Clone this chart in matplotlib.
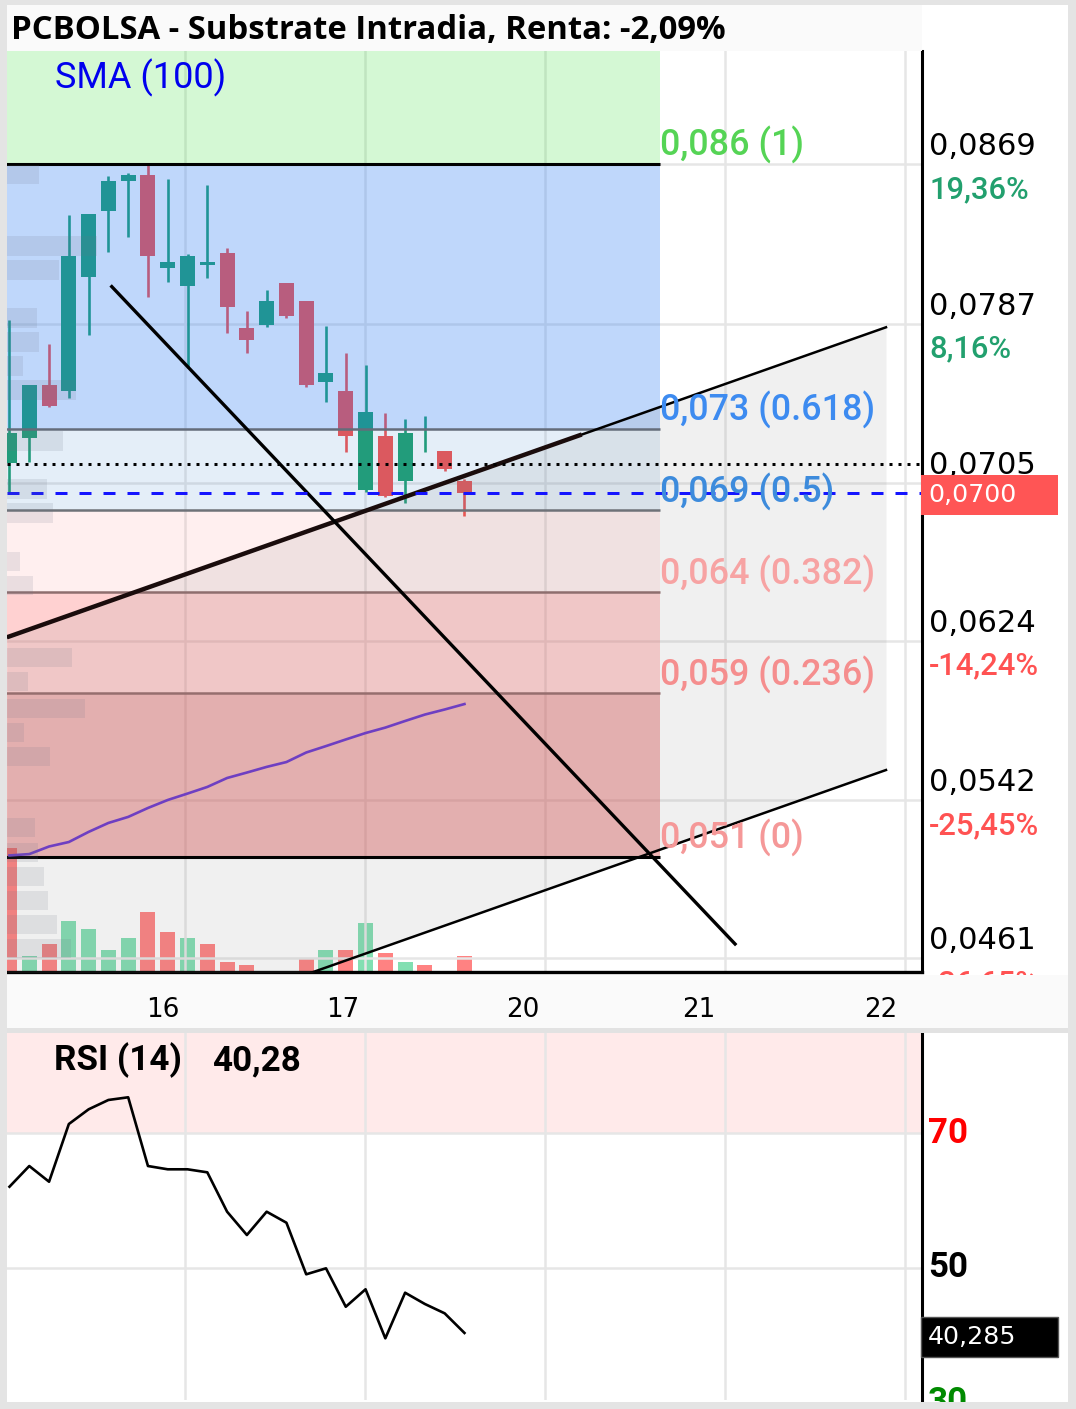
import numpy as np
import matplotlib
matplotlib.use("Agg")
import matplotlib.pyplot as plt
from matplotlib.patches import Rectangle
import math

# ---------------- data ----------------
title_text = "PCBOLSA - Substrate Intradia, Renta: -2,09%"
sma_label = "SMA (100)"

candle_open = [0.07152, 0.07281, 0.07554, 0.07525, 0.08111, 0.08448, 0.08603, 0.08633,
               0.08157, 0.08063, 0.08171, 0.08231, 0.07847, 0.07863, 0.08079, 0.07986,
               0.07571, 0.07524, 0.07015, 0.07294, 0.07061, 0.07209, 0.07215, 0.07061]
candle_high = [0.07888, 0.07554, 0.07764, 0.08426, 0.08433, 0.08628, 0.08642, 0.08685,
               0.08613, 0.08228, 0.08582, 0.08257, 0.07933, 0.08043, 0.08079, 0.07986,
               0.07858, 0.07717, 0.07657, 0.07409, 0.07380, 0.07395, 0.07215, 0.07070]
candle_low = [0.07006, 0.07160, 0.07440, 0.07486, 0.07810, 0.08239, 0.08316, 0.08008,
              0.08085, 0.07642, 0.08103, 0.07823, 0.07717, 0.07854, 0.07900, 0.07546,
              0.07469, 0.07209, 0.07006, 0.06977, 0.06950, 0.07209, 0.07114, 0.06883]
candle_close = [0.07306, 0.07554, 0.07447, 0.08217, 0.08433, 0.08603, 0.08633, 0.08217,
                0.08186, 0.08217, 0.08186, 0.07957, 0.07786, 0.07986, 0.07910, 0.07554,
                0.07616, 0.07294, 0.07416, 0.06984, 0.07308, 0.07209, 0.07123, 0.07000]
volume = [123.7, 16, 27.7, 51.3, 42.7, 21.7, 33.7, 60.3, 39.7, 33.7, 27.7, 9.7,
          6.7, 0, 0, 12.7, 21.7, 21.7, 48.7, 18.7, 9.7, 6.7, 0, 15.7]
sma100 = [0.05137, 0.05144, 0.05183, 0.05206, 0.05258, 0.05304, 0.05335, 0.05381,
          0.05422, 0.05455, 0.05489, 0.05535, 0.05563, 0.05592, 0.05617, 0.05666,
          0.05699, 0.05733, 0.05766, 0.05794, 0.05828, 0.05861, 0.05887, 0.05915]
rsi14 = [62.05, 65.13, 62.79, 71.38, 73.57, 74.96, 75.36, 65.13, 64.64, 64.64, 64.19, 58.33,
         54.86, 58.33, 56.69, 49.01, 49.90, 44.18, 46.78, 39.48, 46.27, 44.59, 43.20, 40.28]

profile_price = [0.08636, 0.08269, 0.08145, 0.07899, 0.07775, 0.07652, 0.07529, 0.07267,
                 0.07020, 0.06897, 0.06647, 0.06524, 0.06154, 0.06031, 0.05892, 0.05769,
                 0.05645, 0.05281, 0.05152, 0.05029, 0.04906, 0.04782, 0.04659]
profile_vol = [32, 90, 52, 30, 32, 16, 69, 56, 40, 46, 13, 26, 65, 21, 78, 17, 43,
               28, 31, 37, 41, 50, 64]

fib_high = 0.0869
fib_low = 0.0513
fib_ratios = [1, 0.618, 0.5, 0.382, 0.236, 0]
fib_ratio_txt = ["1", "0.618", "0.5", "0.382", "0.236", "0"]
fib_end_x = 32.89

channel_x = [-0.13, 44.31]
channel_upper = [0.06258, 0.07851]
channel_width = 0.02275
support_x = [-0.13, 28.93]
support_y = [0.06258, 0.07300]
down_x = [5.17, 36.68]
down_y = [0.08060, 0.04682]

last_price = 0.0700
prev_close = 0.0715
price_ticks = [0.0869, 0.0787, 0.0705, 0.0624, 0.0542, 0.0461]
pct_labels = ["19,36%", "8,16%", "", "-14,24%", "-25,45%", "-36,65%"]

x_grid = [8.873, 17.973, 27.073, 36.173, 45.273]
x_label_pos = [7.76, 16.84, 25.96, 34.86, 44.06]
x_labels = ["16", "17", "20", "21", "22"]

rsi_ticks = [70, 50, 30]
rsi_tick_colors = ["#ff0000", "#000000", "#008a00"]
rsi_last_txt = "40,285"
rsi_header_val = "40,28"

# ---------------- layout helpers ----------------
W, H = 1076, 1409
fig = plt.figure(figsize=(W / 100, H / 100), dpi=100, facecolor="white")


def rect(x0, y0, x1, y1):
    return [x0 / W, 1 - y1 / H, (x1 - x0) / W, (y1 - y0) / H]


def fx(x):
    return x / W


def fy(y):
    return 1 - y / H


XLIM = (-0.126, 46.13)
PLIM = (0.045381, 0.092707)
RLIM = (30.3, 84.93)
ROBOTO = ["Roboto", "DejaVu Sans"]
DEJAVU = ["DejaVu Sans"]

UP, DOWN = "#1b9f6d", "#f5504c"
UPV, DOWNV = "#82dfb2", "#ff8282"

n = len(candle_open)
xi = np.arange(n)
o = np.array(candle_open)
h = np.array(candle_high)
l = np.array(candle_low)
c = np.array(candle_close)

# ---------------- volume axes (bottom layer) ----------------
ax_vol = fig.add_axes(rect(7, 51, 922, 972))
ax_vol.set_xlim(XLIM)
ax_vol.set_ylim(0, 921)
ax_vol.set_axis_off()
chg = np.diff(np.concatenate([[np.inf], c]))
vcol = np.where(chg >= 0, UPV, DOWNV)
ax_vol.bar(xi, volume, width=0.758, color=vcol, linewidth=0)

# ---------------- main price axes ----------------
ax = fig.add_axes(rect(7, 51, 922, 972))
ax.patch.set_alpha(0)
ax.set_xlim(XLIM)
ax.set_ylim(PLIM)
ax.set_xticks(x_grid)
ax.set_yticks(price_ticks)
ax.grid(True, color="#e6e6e6", lw=1.8)
ax.set_axisbelow(True)
ax.tick_params(length=0, labelbottom=False, labelleft=False, labelright=False)
for s in ["top", "left"]:
    ax.spines[s].set_visible(False)
ax.spines["right"].set_linewidth(2.2)
ax.spines["bottom"].set_linewidth(2.4)

# candles
ccol = np.where(c >= o, UP, DOWN)
ax.vlines(xi, l, h, colors=ccol, lw=1.9, zorder=2)
ax.bar(xi, np.abs(c - o), bottom=np.minimum(o, c), width=0.758, color=ccol,
       linewidth=0, zorder=2.1)

# fib zones
fib_prices = [fib_low + r * (fib_high - fib_low) for r in fib_ratios]
fx0 = XLIM[0] - 1
ax.fill_between([fx0, fib_end_x], fib_prices[0], PLIM[1] + 0.01,
                color=(0.155, 0.865, 0.155), alpha=0.2, lw=0, zorder=3)
zone_styles = [((0.176, 0.49, 0.96), 0.30), ((0.293, 0.553, 0.82), 0.15),
               ((1.0, 0.41, 0.41), 0.10), ((1.0, 0.407, 0.407), 0.30),
               ((0.867, 0.288, 0.288), 0.40)]
for k, (col, a) in enumerate(zone_styles):
    ax.fill_between([fx0, fib_end_x], fib_prices[k + 1], fib_prices[k],
                    color=col, alpha=a, lw=0, zorder=3)

# channel fill
ch_x = np.array(channel_x)
ch_up = np.array(channel_upper)
ch_lo = ch_up - channel_width
ax.fill_between(ch_x, ch_lo, ch_up, color=(0.5, 0.5, 0.5), alpha=0.118, lw=0, zorder=3.5)

# fib lines
fib_line_cols = ["#000000", "#646c7a", "#6e7278", "#8e6e6e", "#966e6e", "#000000"]
fib_line_w = [2.2, 1.8, 1.8, 1.8, 1.8, 2.2]
for p, col, lw in zip(fib_prices, fib_line_cols, fib_line_w):
    ax.hlines(p, fx0, fib_end_x, colors=col, lw=lw, zorder=4)

# SMA
ax.plot(xi, sma100, color="#6e3fc2", lw=1.9, zorder=5)

# trend lines
ax.plot(ch_x, ch_up, color="black", lw=1.8, zorder=5)
ax.plot(ch_x, ch_lo, color="black", lw=1.8, zorder=5)
ax.plot(support_x, support_y, color="#1a0c0c", lw=3.2, zorder=5, solid_capstyle="butt")
ax.plot(down_x, down_y, color="black", lw=2.4, zorder=5)

# price lines
ax.axhline(prev_close, color="black", lw=2.16, ls=(0, (1, 2)), zorder=5)
ax.axhline(last_price, color="#1414ff", lw=2.16, ls=(0, (4, 4)), zorder=5.5)

# fib labels
fib_label_cols = ["#55d455", "#3d8bf0", "#3d8bdc", "#f7a3a3", "#f58e8e", "#f59898"]
fib_texts = []
for p, r, col in zip(fib_prices, fib_ratio_txt, fib_label_cols):
    val = math.floor(p * 1000 + 1e-9) / 1000
    txt = f"{val:.3f}".replace(".", ",") + f" ({r})"
    t = ax.annotate(txt, xy=(fib_end_x, p), xytext=(0, 8), textcoords="offset pixels",
                    ha="left", va="baseline", color=col, fontfamily=ROBOTO,
                    fontweight="medium", fontsize=26, zorder=6, annotation_clip=False)
    fib_texts.append(t)

# right axis labels
ytr = ax.get_yaxis_transform()
tick_texts, pct_texts = [], []
for tv, pl in zip(price_ticks, pct_labels):
    t = ax.annotate(f"{tv:.4f}".replace(".", ","), xy=(1, tv), xycoords=ytr,
                    xytext=(7, 9), textcoords="offset pixels", ha="left", va="baseline",
                    color="black", fontfamily=DEJAVU, fontsize=21.5, annotation_clip=False)
    tick_texts.append(t)
    if not pl:
        continue
    pc = "#22a06e" if not pl.startswith("-") else "#ff5252"
    t2 = ax.annotate(pl, xy=(1, tv), xycoords=ytr, xytext=(7, -11),
                     textcoords="offset pixels", ha="left", va="top", color=pc,
                     fontfamily=ROBOTO, fontweight="medium", fontsize=22,
                     annotation_clip=False)
    pct_texts.append(t2)

# last price box
px_per_price = 921 / (PLIM[1] - PLIM[0])
bh = 40 / px_per_price
box_c = last_price - 2 / px_per_price
ax.add_patch(Rectangle((1 - 1 / 915, box_c - bh / 2), 137 / 915, bh, transform=ytr,
                       facecolor="#ff5555", edgecolor="none", clip_on=False, zorder=8))
price_box_txt = ax.annotate(f"{last_price:.4f}".replace(".", ","), xy=(1, box_c),
                            xycoords=ytr, xytext=(6, 0), textcoords="offset pixels",
                            ha="left", va="center", color="white", fontfamily=DEJAVU,
                            fontsize=19, zorder=9, annotation_clip=False)

# ---------------- volume profile (top layer) ----------------
ax_prof = fig.add_axes(rect(7, 51, 922, 972))
ax_prof.patch.set_alpha(0)
ax_prof.set_xlim(0, 915)
ax_prof.set_ylim(PLIM)
ax_prof.set_axis_off()
ax_prof.barh(profile_price, profile_vol, height=0.00100, left=0,
             color=(0.42, 0.45, 0.52, 0.14), linewidth=0)

# ---------------- x label strip ----------------
ax_strip = fig.add_axes(rect(7, 975, 1068, 1028))
ax_strip.set_facecolor("#fafafa")
span = (XLIM[1] - XLIM[0]) * 1061 / 915
ax_strip.set_xlim(XLIM[0], XLIM[0] + span)
ax_strip.set_ylim(0, 53)
ax_strip.set_xticks([])
ax_strip.set_yticks([])
for s in ax_strip.spines.values():
    s.set_visible(False)
xl_texts = []
for xp, lb in zip(x_label_pos, x_labels):
    t = ax_strip.text(xp, 53 - (1016.8 - 975), lb, ha="center", va="baseline",
                      fontfamily=DEJAVU, fontsize=22, color="black")
    xl_texts.append(t)

# ---------------- RSI axes ----------------
ax_rsi = fig.add_axes(rect(7, 1033, 922, 1400))
ax_rsi.set_xlim(XLIM)
ax_rsi.set_ylim(RLIM)
ax_rsi.axhspan(70, 100, color="#ffeaea", zorder=0.3, lw=0)
ax_rsi.set_xticks(x_grid)
ax_rsi.set_yticks([50, 70])
ax_rsi.grid(True, color="#e6e6e6", lw=1.8)
ax_rsi.set_axisbelow(True)
ax_rsi.tick_params(length=0, labelbottom=False, labelleft=False)
for s in ["top", "left", "bottom"]:
    ax_rsi.spines[s].set_visible(False)
ax_rsi.spines["right"].set_linewidth(2.2)
ax_rsi.plot(xi, rsi14, color="black", lw=1.9, zorder=3)
rtr = ax_rsi.get_yaxis_transform()
rsi_tick_texts = []
for v, col in zip(rsi_ticks, rsi_tick_colors):
    t = ax_rsi.annotate(str(v), xy=(1, v), xycoords=rtr, xytext=(6, 0),
                        textcoords="offset pixels", ha="left", va="center", color=col,
                        fontfamily=ROBOTO, fontweight="bold", fontsize=27,
                        annotation_clip=False)
    rsi_tick_texts.append(t)
rpx = 367 / (RLIM[1] - RLIM[0])
rbh = 40 / rpx
rbox_c = rsi14[-1] - 4.5 / rpx
ax_rsi.add_patch(Rectangle((1 - 1 / 915, rbox_c - rbh / 2), 137 / 915, rbh,
                           transform=rtr, facecolor="black", edgecolor="#555555",
                           lw=1, clip_on=False, zorder=8))
rsi_box_txt = ax_rsi.annotate(rsi_last_txt, xy=(1, rbox_c), xycoords=rtr,
                              xytext=(6, 0), textcoords="offset pixels", ha="left",
                              va="center", color="white", fontfamily=DEJAVU,
                              fontsize=19, zorder=9, annotation_clip=False)

# ---------------- figure-level decorations ----------------
fig.add_artist(Rectangle((fx(7), fy(51)), 915 / W, 46 / H, transform=fig.transFigure,
                         facecolor="#fafafa", edgecolor="none", zorder=9))
fig.add_artist(Rectangle((fx(7), fy(1033)), 1061 / W, 5 / H, transform=fig.transFigure,
                         facecolor="#e2e2e2", edgecolor="none", zorder=9))
for (x0, y0, x1, y1) in [(0, 0, 1076, 5), (0, 0, 7, 1409), (1068, 0, 1076, 1409),
                         (0, 1402, 1076, 1409)]:
    fig.add_artist(Rectangle((fx(x0), fy(y1)), (x1 - x0) / W, (y1 - y0) / H,
                             transform=fig.transFigure, facecolor="#e4e4e4",
                             edgecolor="none", zorder=10))

title_t = fig.text(fx(11), fy(39.3), title_text, ha="left", va="baseline",
                   fontfamily=["Open Sans", "DejaVu Sans"], fontweight="bold",
                   fontsize=23, color="black", zorder=12)
sma_t = fig.text(fx(55), fy(88.3), sma_label, ha="left", va="baseline",
                 fontfamily=ROBOTO, fontsize=25, color="#0000ee", zorder=12)
rsi_t1 = fig.text(fx(54), fy(1070), "RSI (14)", ha="left", va="baseline",
                  fontfamily=ROBOTO, fontweight="bold", fontsize=25, color="black", zorder=12)
rsi_t2 = fig.text(fx(212), fy(1070), rsi_header_val, ha="left", va="baseline",
                  fontfamily=ROBOTO, fontweight="bold", fontsize=25, color="black", zorder=12)

# ---------------- fit text widths ----------------
fig.canvas.draw()
renderer = fig.canvas.get_renderer()


def fit(texts, target):
    for _ in range(3):
        w = texts[0].get_window_extent(renderer).width
        if w <= 0:
            return
        s = texts[0].get_fontsize() * target / w
        for t in texts:
            t.set_fontsize(s)


fit([title_t], 715.6)
fit([sma_t], 171)
fit([rsi_t1, rsi_t2], 128)
fit(fib_texts, 144)
fit(tick_texts, 107)
fit(pct_texts, 100)
fit(xl_texts, 33.4)
fit(rsi_tick_texts, 40)
fit([price_box_txt, rsi_box_txt], 88)

fig.savefig("out.png", dpi=100, facecolor=fig.get_facecolor())
